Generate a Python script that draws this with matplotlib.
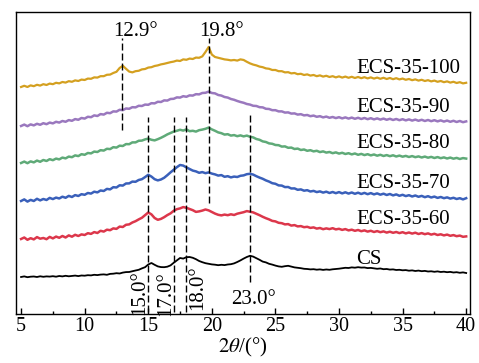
import numpy as np
import matplotlib
matplotlib.use("Agg")
import matplotlib.pyplot as plt
from matplotlib.ticker import MultipleLocator

plt.rcParams["font.family"] = "Liberation Serif"
plt.rcParams["mathtext.fontset"] = "stix"

# 2theta grid, 0.25 deg step from 5 to 40
two_theta = np.linspace(5, 40, 141)

cs = [37, 37.6, 36.8, 37.3, 37.5, 37.0, 37.7, 37.2, 37.6, 37.4,
      37.8, 37.3, 38.0, 37.6, 38.2, 37.7, 38.1, 38.4, 37.9, 38.5,
      38.3, 38.8, 38.6, 39.2, 38.9, 39.4, 39.6, 39.2, 40.1, 40.3,
      40.8, 40.5, 41.4, 41.9, 42.0, 42.8, 43.5, 44.2, 45.6, 46.8,
      49.5, 51.0, 49.2, 47.6, 46.9, 46.8, 47.3, 48.6, 51.2, 53.6,
      56.0, 55.4, 56.8, 57.0, 56.2, 54.8, 53.0, 51.8, 50.8, 50.2,
      49.6, 49.3, 48.8, 49.2, 48.9, 49.5, 49.8, 50.6, 52.0, 53.6,
      55.4, 57.0, 58.2, 57.4, 55.8, 54.2, 52.4, 51.6, 50.2, 49.4,
      48.4, 47.6, 47.2, 47.8, 48.2, 47.4, 46.6, 46.2, 45.8, 45.2,
      45.0, 44.6, 44.8, 44.3, 44.6, 44.1, 44.5, 44.2, 44.7, 45.0,
      45.3, 45.8, 46.2, 46.0, 46.6, 46.3, 46.8, 46.4, 46.5, 45.9,
      46.1, 45.6, 45.2, 45.5, 44.8, 45.0, 44.4, 44.6, 44.0, 44.2,
      43.7, 43.9, 43.3, 43.6, 43.0, 43.4, 42.8, 43.1, 42.5, 42.7,
      42.2, 42.6, 42.0, 42.3, 41.8, 42.1, 41.5, 41.8, 41.2, 41.6,
      41.0]

ecs60 = [75, 76.5, 74.2, 75.8, 74.6, 76.9, 75.3, 76.0, 74.8, 77.1,
         75.6, 77.4, 76.2, 78.0, 76.5, 78.6, 77.3, 79.2, 78.0, 79.6,
         79.0, 80.8, 80.1, 81.9, 81.0, 83.2, 82.4, 84.3, 83.8, 85.6,
         85.1, 87.4, 87.0, 89.2, 89.6, 91.5, 92.8, 94.6, 96.2, 98.8,
         101.5, 99.6, 96.0, 94.2, 95.1, 96.8, 98.9, 100.6, 103.2, 104.8,
         105.6, 106.9, 106.2, 105.0, 103.8, 102.1, 102.6, 103.4, 104.5, 103.6,
         102.0, 100.4, 99.2, 98.6, 99.4, 98.8, 99.7, 99.0, 100.3, 101.0,
         101.8, 102.9, 102.2, 101.6, 100.2, 98.8, 97.2, 95.8, 94.6, 93.1,
         92.6, 91.2, 90.8, 89.6, 89.9, 88.4, 88.9, 87.6, 87.9, 86.8,
         87.2, 86.1, 86.6, 85.4, 86.0, 84.8, 85.6, 84.9, 85.8, 84.6,
         85.2, 84.1, 84.9, 83.6, 84.3, 83.2, 84.0, 82.8, 83.6, 82.4,
         83.2, 82.0, 82.9, 81.8, 82.6, 81.4, 82.3, 81.2, 82.0, 80.9,
         81.8, 80.6, 81.5, 80.4, 81.3, 80.0, 80.9, 79.8, 80.6, 79.4,
         80.2, 79.0, 79.7, 78.6, 79.4, 78.2, 78.9, 77.8, 78.4, 77.2,
         77.6]

ecs70 = [113, 114.6, 112.4, 114.1, 113.0, 115.2, 113.6, 115.0, 114.0, 116.1,
         114.9, 116.4, 115.5, 117.3, 116.2, 118.1, 117.0, 118.9, 118.0, 119.8,
         119.2, 121.0, 120.4, 122.3, 121.6, 123.5, 123.0, 125.1, 124.6, 126.8,
         126.5, 128.7, 128.4, 130.5, 130.6, 132.4, 132.2, 134.0, 134.8, 136.9,
         139.2, 137.4, 134.8, 133.6, 134.5, 136.2, 138.8, 141.6, 144.2, 146.8,
         149.0, 148.4, 146.6, 145.0, 143.4, 142.6, 141.2, 141.9, 140.8, 141.6,
         140.4, 139.6, 138.4, 138.9, 137.2, 137.8, 136.6, 137.4, 137.0, 138.2,
         138.6, 139.8, 140.2, 139.4, 137.8, 136.4, 135.2, 133.6, 132.4, 130.8,
         130.2, 128.6, 128.4, 126.9, 127.0, 125.5, 125.6, 124.2, 124.6, 123.3,
         123.8, 122.5, 123.1, 121.9, 122.6, 121.4, 122.3, 121.0, 122.0, 120.8,
         121.9, 120.6, 121.7, 120.4, 121.5, 120.2, 121.3, 120.0, 121.1, 119.8,
         120.9, 119.6, 120.6, 119.3, 120.3, 119.0, 120.0, 118.6, 119.6, 118.2,
         119.2, 117.9, 118.8, 117.5, 118.5, 117.2, 118.1, 116.8, 117.8, 116.5,
         117.4, 116.1, 117.0, 115.8, 116.6, 115.4, 116.2, 115.0, 115.8, 114.6,
         115.8]

ecs80 = [151, 152.4, 150.8, 152.6, 151.6, 153.4, 152.2, 154.0, 153.0, 154.8,
         153.8, 155.4, 154.6, 156.4, 155.6, 157.4, 156.8, 158.6, 157.9, 159.8,
         159.2, 161.0, 160.6, 162.4, 162.0, 163.8, 163.4, 165.2, 164.9, 166.8,
         166.4, 168.3, 168.0, 169.9, 169.8, 171.6, 171.6, 173.2, 173.4, 174.6,
         175.4, 174.2, 173.6, 174.8, 176.2, 177.8, 179.6, 181.0, 182.4, 183.2,
         184.2, 183.4, 184.6, 182.8, 183.2, 182.4, 183.8, 184.4, 185.2, 186.4,
         184.6, 183.2, 181.6, 180.8, 179.4, 179.8, 178.4, 178.9, 177.8, 178.6,
         177.6, 178.4, 177.2, 176.6, 175.0, 174.2, 172.6, 172.0, 170.6, 170.2,
         169.0, 168.8, 167.4, 167.6, 166.2, 166.4, 165.0, 165.4, 164.0, 164.5,
         163.2, 163.8, 162.6, 163.2, 161.9, 162.6, 161.4, 162.0, 160.8, 161.6,
         160.4, 161.2, 160.0, 160.8, 159.6, 160.5, 159.2, 160.1, 158.9, 159.8,
         158.6, 159.5, 158.3, 159.2, 158.0, 158.9, 157.8, 158.7, 157.5, 158.4,
         157.3, 158.1, 157.0, 157.9, 156.8, 157.6, 156.5, 157.4, 156.3, 157.1,
         156.0, 156.9, 155.8, 156.6, 155.5, 156.4, 155.3, 156.1, 155.0, 155.9,
         155.4]

ecs90 = [188, 189.4, 187.8, 189.6, 188.6, 190.2, 189.2, 190.8, 189.8, 191.4,
         190.6, 192.2, 191.4, 193.0, 192.2, 193.9, 193.2, 194.9, 194.2, 196.0,
         195.4, 197.2, 196.8, 198.6, 198.0, 199.9, 199.4, 201.2, 200.8, 202.6,
         202.4, 204.2, 203.8, 205.5, 205.2, 206.8, 206.6, 208.2, 208.0, 209.4,
         209.2, 210.8, 210.6, 212.2, 212.0, 213.6, 213.4, 215.0, 215.2, 216.6,
         216.4, 217.8, 217.2, 218.6, 218.4, 219.8, 219.6, 221.0, 221.2, 222.4,
         221.0, 220.6, 219.0, 218.4, 217.0, 216.4, 215.0, 214.2, 213.0, 212.0,
         211.2, 210.0, 209.4, 208.2, 208.0, 206.8, 206.6, 205.2, 205.0, 203.8,
         203.8, 202.6, 202.6, 201.4, 201.6, 200.4, 200.6, 199.4, 199.8, 198.6,
         199.0, 197.8, 198.4, 197.2, 197.8, 196.6, 197.4, 196.2, 197.0, 195.9,
         196.8, 195.6, 196.6, 195.4, 196.4, 195.2, 196.2, 195.0, 196.0, 194.8,
         195.8, 194.6, 195.6, 194.4, 195.4, 194.2, 195.2, 194.0, 195.0, 193.8,
         194.8, 193.6, 194.6, 193.4, 194.4, 193.2, 194.2, 193.0, 194.0, 192.8,
         193.8, 192.6, 193.6, 192.4, 193.4, 192.2, 193.2, 192.0, 193.0, 191.8,
         192.6]

ecs100 = [227, 228.2, 227.0, 228.6, 227.8, 229.2, 228.4, 229.8, 229.0, 230.4,
          229.8, 231.2, 230.6, 232.0, 231.4, 232.8, 232.2, 233.6, 233.0, 234.4,
          234.0, 235.4, 235.2, 236.6, 236.4, 237.8, 237.8, 239.2, 239.4, 241.0,
          242.2, 246.0, 248.2, 245.2, 242.4, 241.6, 242.8, 243.2, 244.6, 245.0,
          246.4, 246.8, 248.0, 248.6, 249.6, 250.2, 251.0, 251.8, 252.4, 253.4,
          253.0, 254.6, 254.2, 255.4, 255.0, 256.4, 256.2, 257.6, 262.0, 267.0,
          259.4, 257.0, 256.2, 255.4, 254.6, 254.2, 253.6, 254.0, 253.4, 254.6,
          254.0, 252.2, 250.6, 249.4, 248.6, 247.4, 246.8, 245.6, 245.2, 244.0,
          244.0, 242.8, 242.8, 241.6, 241.8, 240.6, 241.0, 239.8, 240.2, 239.0,
          239.6, 238.4, 239.0, 237.8, 238.6, 237.4, 238.2, 237.0, 237.8, 236.6,
          237.6, 236.4, 237.4, 236.2, 237.2, 236.0, 237.0, 235.8, 236.8, 235.6,
          236.6, 235.4, 236.4, 235.2, 236.2, 235.0, 236.0, 234.8, 235.8, 234.6,
          235.4, 234.2, 235.0, 233.8, 234.6, 233.4, 234.2, 233.0, 233.8, 232.6,
          233.4, 232.2, 233.0, 231.8, 232.6, 231.4, 232.2, 231.0, 231.8, 230.6,
          231.2]

names = ["CS", "ECS-35-60", "ECS-35-70", "ECS-35-80", "ECS-35-90", "ECS-35-100"]
colors = ["black", "#DC374B", "#3A60BA", "#5FAA78", "#9A78BE", "#D4A020"]
widths = [1.3, 1.8, 1.8, 1.8, 1.8, 1.6]
series = [cs, ecs60, ecs70, ecs80, ecs90, ecs100]
label_y = [50, 90, 125.7, 165.7, 202.3, 240.7]

# dashed peak markers: position, y range
peak_pos = [12.9, 19.8, 15.0, 17.0, 18.0, 23.0]
peak_lo = [184, 111, 2, 2, 2, 32]
peak_hi = [276, 276, 197, 197, 197, 199]

fig = plt.figure(figsize=(4.79, 3.63), dpi=100)
ax = fig.add_axes([0.0334, 0.135, 0.9478, 0.832])

for y, c, w in zip(series, colors, widths):
    ax.plot(two_theta, y, color=c, lw=w)

for p, lo, hi in zip(peak_pos, peak_lo, peak_hi):
    ax.vlines(p, lo, hi, colors="black", linestyles=(0, (5, 2.2)), lw=1.0)

for n, ly in zip(names, label_y):
    ax.text(31.35, ly, n, fontsize=15, ha="left", va="baseline")

ax.text(13.97, 278, "12.9°", fontsize=15, ha="center", va="baseline")
ax.text(20.77, 278, "19.8°", fontsize=15, ha="center", va="baseline")
ax.text(23.29, 10, "23.0°", fontsize=15, ha="center", va="baseline")
ax.text(14.3, 21.5, "15.0°", fontsize=15, ha="center", va="center", rotation=90)
ax.text(16.35, 20, "17.0°", fontsize=15, ha="center", va="center", rotation=90)
ax.text(18.9, 26, "18.0°", fontsize=15, ha="center", va="center", rotation=90)

ax.set_xlim(4.6, 40.3)
ax.set_ylim(0, 302)
ax.xaxis.set_major_locator(MultipleLocator(5))
ax.xaxis.set_minor_locator(MultipleLocator(2.5))
ax.tick_params(axis="x", which="both", direction="in", labelsize=14.5, pad=2)
ax.tick_params(axis="x", which="major", length=4.5, width=1.0)
ax.tick_params(axis="x", which="minor", length=2.5, width=1.0)
ax.set_yticks([])
ax.set_xlabel(r"$\mathit{2\theta}$/(°)", fontsize=15, labelpad=0)
for s in ax.spines.values():
    s.set_linewidth(1.0)

fig.savefig("out.png", dpi=100)
